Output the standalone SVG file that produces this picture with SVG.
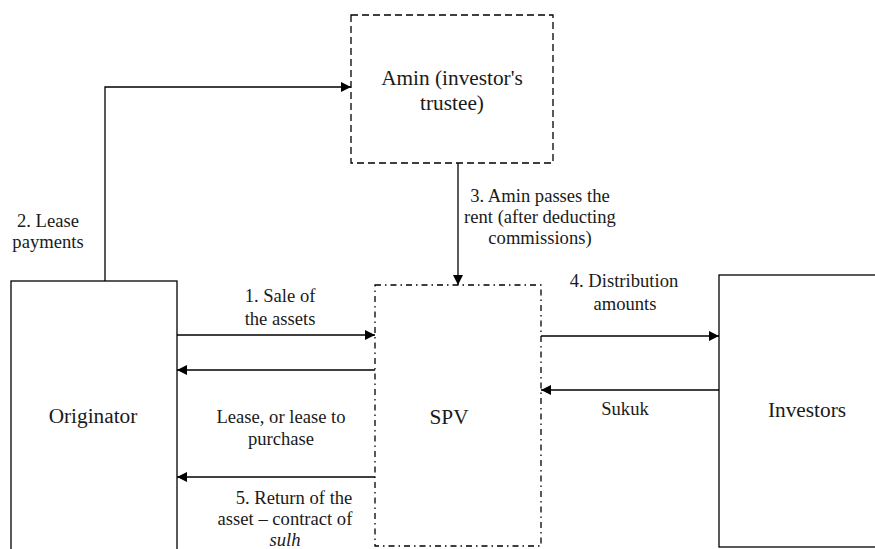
<svg xmlns="http://www.w3.org/2000/svg" width="875" height="549" viewBox="0 0 875 549">
<style>
.box{fill:#fff;stroke:#000;stroke-width:1.3}
.dash{stroke-dasharray:7,4}
.dashdot{stroke-dasharray:6,4,1.5,4}
text{font-family:'Liberation Serif','Times New Roman',Tinos,'DejaVu Serif',serif;fill:#1a1a1a;text-anchor:middle}
.node{font-size:21.3px}
.lbl{font-size:18.6px}
.conn{fill:none;stroke:#000;stroke-width:1.3}
</style>
<defs>
<marker id="ah" viewBox="0 0 10 10" refX="10" refY="5" markerWidth="10" markerHeight="10" markerUnits="userSpaceOnUse" orient="auto">
<path d="M0,0 L10,5 L0,10 Z" fill="#000"/>
</marker>
</defs>
<g id="amin">
<rect class="box dash" x="351" y="15" width="202" height="148"/>
<text class="node" x="452" y="85" style="font-family:'Liberation Serif',serif">Amin (investor's</text>
<text class="node" x="452" y="110" style="font-family:'Liberation Serif',serif">trustee)</text>
</g>
<g id="originator">
<rect class="box" x="11" y="281" width="166" height="290"/>
<text class="node" x="93" y="423" style="font-family:'Liberation Serif',serif">Originator</text>
</g>
<g id="spv">
<rect class="box dashdot" x="375" y="285" width="166" height="261"/>
<text class="node" x="449" y="424" style="font-family:'Liberation Serif',serif">SPV</text>
</g>
<g id="investors">
<rect class="box" x="719" y="275" width="170" height="272"/>
<text class="node" x="807" y="417" style="font-family:'Liberation Serif',serif">Investors</text>
</g>
<g id="connectors">
<path class="conn" d="M105,281 V87 H351" marker-end="url(#ah)"/>
<path class="conn" d="M458,163 V285" marker-end="url(#ah)"/>
<path class="conn" d="M177,335 H375" marker-end="url(#ah)"/>
<path class="conn" d="M375,370 H177" marker-end="url(#ah)"/>
<path class="conn" d="M375,477 H177" marker-end="url(#ah)"/>
<path class="conn" d="M541,336 H719" marker-end="url(#ah)"/>
<path class="conn" d="M719,390 H541" marker-end="url(#ah)"/>
</g>
<g id="labels" style="font-family:'Liberation Serif',serif">
<text class="lbl" x="48" y="227">2. Lease</text>
<text class="lbl" x="48" y="248">payments</text>
<text class="lbl" x="540" y="202">3. Amin passes the</text>
<text class="lbl" x="540" y="223">rent (after deducting</text>
<text class="lbl" x="540" y="244">commissions)</text>
<text class="lbl" x="280" y="302">1. Sale of</text>
<text class="lbl" x="280" y="325">the assets</text>
<text class="lbl" x="281" y="423">Lease, or lease to</text>
<text class="lbl" x="281" y="445">purchase</text>
<text class="lbl" x="294" y="504">5. Return of the</text>
<text class="lbl" x="285" y="525">asset – contract of</text>
<text class="lbl" x="285" y="546" font-style="italic">sulh</text>
<text class="lbl" x="624" y="287">4. Distribution</text>
<text class="lbl" x="625" y="310">amounts</text>
<text class="lbl" x="625" y="415">Sukuk</text>
</g>
</svg>
